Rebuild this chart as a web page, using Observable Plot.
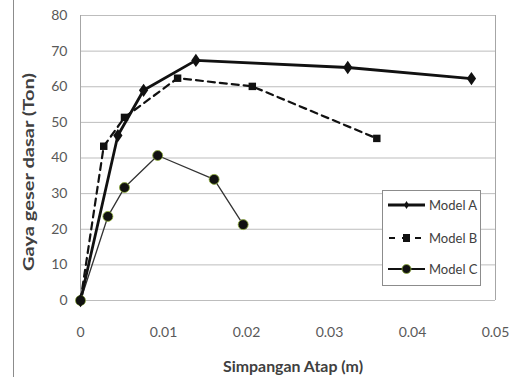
<!DOCTYPE html>
<html><head><meta charset="utf-8">
<script src="https://cdn.jsdelivr.net/npm/d3@7"></script>
<script src="https://cdn.jsdelivr.net/npm/@observablehq/plot@0.6"></script>
<style>
body{margin:0;background:#fff;}
#chart svg{display:block;}
</style>
</head><body><div id="chart"></div>
<script>
const seriesNames = ["Model A", "Model B", "Model C"];
const modelA_x = [0, 0.0045, 0.0076, 0.0139, 0.0322, 0.0471];
const modelA_y = [0, 46.3, 59, 67.4, 65.4, 62.3];
const modelB_x = [0, 0.0028, 0.0053, 0.0117, 0.0207, 0.0357];
const modelB_y = [0, 43.3, 51.4, 62.4, 60.1, 45.5];
const modelC_x = [0, 0.0033, 0.0053, 0.0093, 0.0161, 0.0196];
const modelC_y = [0, 23.6, 31.7, 40.7, 34, 21.3];
const xTicks = [0, 0.01, 0.02, 0.03, 0.04, 0.05];
const xTickLabels = ["0", "0.01", "0.02", "0.03", "0.04", "0.05"];
const yTicks = [0, 10, 20, 30, 40, 50, 60, 70, 80];
const xLabel = "Simpangan Atap (m)";
const yLabel = "Gaya geser dasar (Ton)";

const toRows = (xs, ys, name) => xs.map((x, i) => ({x, y: ys[i], series: name}));
const A = toRows(modelA_x, modelA_y, seriesNames[0]);
const B = toRows(modelB_x, modelB_y, seriesNames[1]);
const C = toRows(modelC_x, modelC_y, seriesNames[2]);

const tallDiamond = {draw(ctx, size) {
  const h = Math.sqrt(size) * 0.75, w = h * 0.7;
  ctx.moveTo(0, -h); ctx.lineTo(w, 0); ctx.lineTo(0, h); ctx.lineTo(-w, 0); ctx.closePath();
}};

const font = "Lato, 'Open Sans', sans-serif";
const chart = Plot.plot({
  width: 510, height: 379,
  marginLeft: 80, marginRight: 15, marginTop: 15, marginBottom: 79,
  style: {fontFamily: font, fontSize: "14px", color: "#595959", background: "#fff"},
  x: {domain: [0, 0.05], ticks: xTicks, tickFormat: (d, i) => xTickLabels[i], tickSize: 0, tickPadding: 27, label: null},
  y: {domain: [0, 80], ticks: yTicks, tickSize: 0, tickPadding: 13, label: null},
  marks: [
    Plot.gridY(yTicks, {stroke: "#bdbdbd", strokeOpacity: 1, strokeWidth: 1}),
    Plot.ruleX([0, 0.05], {stroke: "#a6a6a6", strokeWidth: 1}),
    Plot.line(C, {x: "x", y: "y", stroke: "#333", strokeWidth: 1.3}),
    Plot.line(B, {x: "x", y: "y", stroke: "#111", strokeWidth: 2.2, strokeDasharray: "7,5"}),
    Plot.line(A, {x: "x", y: "y", stroke: "#111", strokeWidth: 2.8}),
    Plot.dot(C, {x: "x", y: "y", r: 5, fill: "#111", stroke: "#8fae3a", strokeWidth: 0.8}),
    Plot.dot(B, {x: "x", y: "y", symbol: "square", r: 4.2, fill: "#111", stroke: "none"}),
    Plot.dot(A, {x: "x", y: "y", symbol: tallDiamond, r: 5, fill: "#111", stroke: "none"})
  ]
});
document.getElementById("chart").appendChild(chart);

const svg = d3.select(chart);
// outer frame line on the left
svg.append("line").attr("x1", 13.5).attr("x2", 13.5).attr("y1", 0).attr("y2", 377)
  .attr("stroke", "#8c8c8c").attr("stroke-width", 1);
// axis titles
svg.append("text").attr("x", 293).attr("y", 372).attr("text-anchor", "middle")
  .attr("font-family", font).attr("font-size", 15.5).attr("font-weight", "bold").attr("fill", "#404040")
  .attr("textLength", 140).attr("lengthAdjust", "spacingAndGlyphs")
  .text(xLabel);
svg.append("text").attr("transform", "translate(34,172) rotate(-90)").attr("text-anchor", "middle")
  .attr("font-family", font).attr("font-size", 16).attr("font-weight", "bold").attr("fill", "#404040")
  .attr("textLength", 198).attr("lengthAdjust", "spacingAndGlyphs")
  .text(yLabel);
// legend
const lg = svg.append("g").attr("text-anchor", "start");
lg.append("rect").attr("x", 382.5).attr("y", 190.5).attr("width", 98).attr("height", 95)
  .attr("fill", "#fff").attr("stroke", "#8c8c8c").attr("stroke-width", 1);
const rowsY = [205, 238, 269];
const styles = [
  {w: 2.8, dash: null, sym: "diamond"},
  {w: 2.2, dash: "6,7", sym: "square"},
  {w: 1.8, dash: null, sym: "circle"}
];
seriesNames.forEach((name, i) => {
  const y = rowsY[i], s = styles[i];
  const ln = lg.append("line").attr("x1", 388).attr("x2", 425).attr("y1", y).attr("y2", y)
    .attr("stroke", "#111").attr("stroke-width", s.w);
  if (s.dash) ln.attr("stroke-dasharray", s.dash).attr("stroke-dashoffset", -1);
  if (s.sym === "diamond") lg.append("path").attr("d", `M406.5,${y-4}L409,${y}L406.5,${y+4}L404,${y}Z`).attr("fill", "#111");
  if (s.sym === "square") lg.append("rect").attr("x", 403).attr("y", y - 4).attr("width", 7).attr("height", 8).attr("fill", "#111");
  if (s.sym === "circle") lg.append("circle").attr("cx", 406.5).attr("cy", y).attr("r", 4.5).attr("fill", "#111").attr("stroke", "#8fae3a").attr("stroke-width", 0.8);
  lg.append("text").attr("x", 429).attr("y", y).attr("dy", "0.35em").attr("text-anchor", "start")
    .attr("font-family", font).attr("font-size", 13).attr("fill", "#404040").text(name);
});
</script>
</body></html>
